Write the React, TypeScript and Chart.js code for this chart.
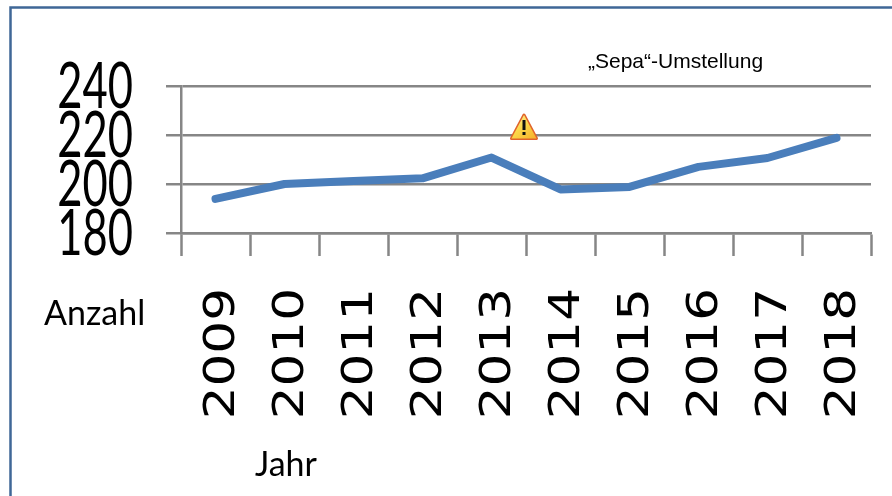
import React, { useEffect, useRef } from "react";
import { Chart, registerables } from "chart.js";

Chart.register(...registerables);

const years = ["2009", "2010", "2011", "2012", "2013", "2014", "2015", "2016", "2017", "2018"];
const counts = [193.9, 200, 201.2, 202.3, 210.8, 197.8, 198.8, 207, 210.6, 218.8];
const yTicks = [180, 200, 220, 240];

const GRID = "#868686";
const BLUE = "#4a7ebb";

const overlay = {
  id: "overlay",
  afterDraw(chart: any) {
    const { ctx } = chart;
    const { x, y } = chart.scales;
    ctx.save();
    // frame
    ctx.strokeStyle = "#3f6797";
    ctx.lineWidth = 2.5;
    ctx.beginPath();
    ctx.moveTo(10.5, 496);
    ctx.lineTo(10.5, 7.5);
    ctx.lineTo(892, 7.5);
    ctx.stroke();

    // y tick labels (condensed)
    ctx.fillStyle = "#000";
    ctx.textBaseline = "alphabetic";
    ctx.textAlign = "right";
    ctx.font = '64px "Lato"';
    y.ticks.forEach((t: any) => {
      ctx.save();
      ctx.translate(133, y.getPixelForValue(t.value) + 22);
      ctx.scale(0.68, 1);
      ctx.fillText(String(t.value), 0, 0);
      ctx.restore();
    });

    // x tick labels (rotated, stretched along the reading direction)
    ctx.font = '43px "DejaVu Sans"';
    ctx.textAlign = "right";
    ctx.textBaseline = "middle";
    years.forEach((label, i) => {
      ctx.save();
      ctx.translate(x.getPixelForValue(i) + 7, 288);
      ctx.rotate(-Math.PI / 2);
      ctx.scale(1.2, 1);
      ctx.fillText(label, 0, 0);
      ctx.restore();
    });

    // texts
    ctx.textBaseline = "alphabetic";
    ctx.textAlign = "left";
    ctx.font = '21px "Liberation Sans"';
    ctx.fillText("„Sepa“-Umstellung", 588, 68);
    ctx.font = '34px "Lato"';
    ctx.fillText("Anzahl", 44, 325);
    ctx.fillText("Jahr", 255, 476);

    // warning icon, on the tick between 2013 and 2014
    const cx = (x.getPixelForValue(4) + x.getPixelForValue(5)) / 2 - 2;
    const cy = 127;
    const g = ctx.createLinearGradient(cx - 12, cy - 12, cx + 8, cy + 12);
    g.addColorStop(0, "#fff3a0");
    g.addColorStop(0.5, "#fcd84a");
    g.addColorStop(1, "#f7b52c");
    ctx.beginPath();
    ctx.moveTo(cx, cy - 12);
    ctx.lineTo(cx + 12.5, cy + 11.5);
    ctx.lineTo(cx - 12.5, cy + 11.5);
    ctx.closePath();
    ctx.lineJoin = "round";
    ctx.lineWidth = 3;
    ctx.strokeStyle = "#e0632a";
    ctx.fillStyle = g;
    ctx.stroke();
    ctx.fill();
    ctx.fillStyle = "#111";
    ctx.fillRect(cx - 1.5, cy - 7, 3, 10);
    ctx.fillRect(cx - 1.5, cy + 5, 3, 3);
    ctx.restore();
  },
};

export default function App() {
  const ref = useRef<HTMLCanvasElement>(null);
  useEffect(() => {
    const chart = new Chart(ref.current!, {
      type: "line",
      data: {
        labels: years,
        datasets: [
          {
            label: "Anzahl",
            data: counts,
            borderColor: BLUE,
            borderWidth: 8,
            borderCapStyle: "round",
            borderJoinStyle: "round",
            pointRadius: 0,
            tension: 0,
          },
        ],
      },
      options: {
        responsive: false,
        animation: false,
        layout: { padding: { top: 86, left: 0, right: 21, bottom: 0 } },
        plugins: { legend: { display: false }, tooltip: { enabled: false }, title: { display: false } },
        scales: {
          x: {
            type: "category",
            offset: true,
            border: { display: true, color: GRID, width: 2.5 },
            grid: { drawOnChartArea: false, drawTicks: true, tickLength: 23, tickColor: GRID, tickWidth: 2.5, offset: true },
            ticks: { display: false, autoSkip: false },
            afterFit(s: any) { s.height = 496 - 233; s.paddingLeft = 0; s.paddingRight = 0; },
          },
          y: {
            min: 180,
            max: 240,
            afterBuildTicks(s: any) { s.ticks = yTicks.map((value) => ({ value })); },
            border: { display: true, color: GRID, width: 2.5 },
            grid: { color: GRID, lineWidth: 2.5, tickLength: 15, tickColor: GRID, tickWidth: 2.5 },
            ticks: { display: false },
            afterFit(s: any) { s.width = 181; s.paddingTop = 0; s.paddingBottom = 0; },
          },
        },
      },
      plugins: [overlay],
    } as any);
    return () => chart.destroy();
  }, []);
  return (
    <div style={{ position: "fixed", inset: 0, background: "#fff" }}>
      <canvas ref={ref} width={892} height={496} style={{ display: "block" }} />
    </div>
  );
}
